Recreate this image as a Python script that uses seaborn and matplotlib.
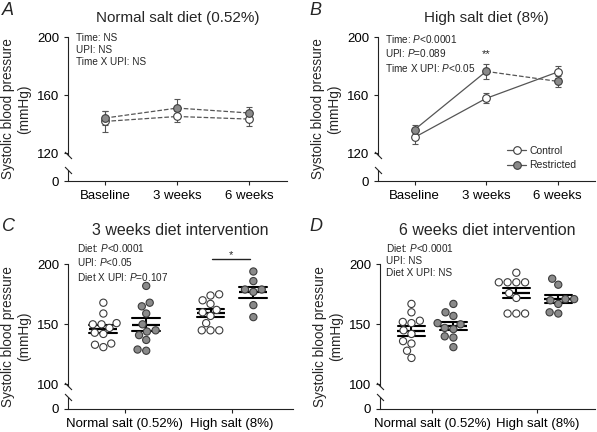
import numpy as np
import pandas as pd
import matplotlib.pyplot as plt
import seaborn as sns
from matplotlib.lines import Line2D

# time course means +/- SEM (mmHg)
timepoints = ['Baseline', '3 weeks', '6 weeks']
normal_ctrl_mean = [141.8, 145.2, 143.4]
normal_ctrl_sem = [7.0, 4.0, 4.5]
normal_rest_mean = [144.1, 151.0, 147.6]
normal_rest_sem = [5.0, 6.0, 4.0]
high_ctrl_mean = [130.8, 157.7, 175.9]
high_ctrl_sem = [4.5, 3.5, 4.0]
high_rest_mean = [136.1, 176.3, 169.4]
high_rest_sem = [3.5, 5.0, 4.0]

# individual animals
diets = ['Normal salt (0.52%)', 'High salt (8%)']
groups = ['Control', 'Restricted']
wk3_normal_ctrl = [168, 159, 150, 150, 151, 147, 143, 142, 134, 133, 131]
wk3_normal_rest = [182, 168, 165, 159, 150, 145, 144, 141, 137, 128, 129]
wk3_high_ctrl = [175, 174, 170, 167, 162, 160, 157, 151, 145, 145, 145]
wk3_high_rest = [194, 186, 179, 179, 177, 166, 156]
wk6_normal_ctrl = [167, 160, 153, 152, 151, 145, 142, 136, 134, 128, 122]
wk6_normal_rest = [167, 160, 157, 151, 150, 147, 146, 140, 139, 131]
wk6_high_ctrl = [193, 185, 185, 185, 185, 176, 172, 159, 159, 159]
wk6_high_rest = [188, 183, 171, 171, 170, 167, 160, 159]

stats_a = 'Time: NS\nUPI: NS\nTime X UPI: NS'
stats_b = 'Time: $P$<0.0001\nUPI: $P$=0.089\nTime X UPI: $P$<0.05'
stats_c = 'Diet: $P$<0.0001\nUPI: $P$<0.05\nDiet X UPI: $P$=0.107'
stats_d = 'Diet: $P$<0.0001\nUPI: NS\nDiet X UPI: NS'

sns.set_style('ticks')
plt.rcParams['font.family'] = ['Liberation Sans', 'DejaVu Sans']
plt.rcParams['mathtext.fontset'] = 'custom'
plt.rcParams['mathtext.rm'] = 'Liberation Sans'
plt.rcParams['mathtext.it'] = 'Liberation Sans:italic'

ink = '#222222'
line_c = '#555555'
grey = '#8a8a8a'
edge = '#3c3c3c'


def style_axis(ax, zero_pos, ticks, brk_hi, brk_lo):
    ax.set_ylim(zero_pos, 200)
    ax.set_yticks([zero_pos] + ticks)
    ax.set_yticklabels(['0'] + [str(t) for t in ticks])
    ax.spines[['top', 'right']].set_visible(False)
    for s in ['left', 'bottom']:
        ax.spines[s].set_color(ink)
        ax.spines[s].set_linewidth(0.8)
    ax.spines['left'].set_bounds(brk_hi, 200)
    ax.tick_params(direction='out', length=3, width=0.8, colors=ink,
                   labelsize=9.5, labelcolor='black')
    trans = ax.get_yaxis_transform()
    ax.plot([0, 0], [zero_pos, brk_lo], transform=trans, color=ink, lw=0.8, clip_on=False)
    for yb in (brk_hi, brk_lo):
        ax.plot(0, yb, marker=[(-1, 1), (1, -1)], ms=5, mew=0.8, color=ink,
                transform=trans, clip_on=False)
    ax.set_ylabel('Systolic blood pressure\n(mmHg)', fontsize=9.8, labelpad=4)
    ax.set_xlabel('')


def draw_timecourse(ax, ctrl_mean, ctrl_sem, rest_mean, rest_sem, ctrl_ls, rest_ls):
    x = np.arange(len(timepoints))
    for mean, sem, styles, fc in [(ctrl_mean, ctrl_sem, ctrl_ls, 'white'),
                                  (rest_mean, rest_sem, rest_ls, grey)]:
        for i, ls in enumerate(styles):
            sns.lineplot(x=x[i:i + 2], y=mean[i:i + 2], color=line_c, lw=0.9,
                         linestyle=ls, ax=ax)
        ax.errorbar(x, mean, yerr=sem, fmt='o', ms=5.5, mfc=fc, mec=edge, mew=0.8,
                    ecolor=line_c, elinewidth=0.8, capsize=2, capthick=0.8, zorder=3)
    ax.set_xticks(x)
    ax.set_xticklabels(timepoints)
    ax.set_xlim(-0.51, 2.52)


def scatter_frame(normal_ctrl, normal_rest, high_ctrl, high_rest):
    parts = []
    for diet, grp, vals in [(diets[0], groups[0], normal_ctrl), (diets[0], groups[1], normal_rest),
                            (diets[1], groups[0], high_ctrl), (diets[1], groups[1], high_rest)]:
        parts.append(pd.DataFrame({'diet': diet, 'group': grp, 'sbp': vals}))
    return pd.concat(parts, ignore_index=True)


def draw_scatter(ax, df):
    sns.swarmplot(data=df, x='diet', y='sbp', hue='group', order=diets, hue_order=groups,
                  dodge=True, palette={'Control': 'white', 'Restricted': grey},
                  edgecolor=edge, linewidth=0.8, size=5.2, legend=False, ax=ax)
    sns.pointplot(data=df, x='diet', y='sbp', hue='group', order=diets, hue_order=groups,
                  dodge=0.4, errorbar='se', palette={'Control': 'black', 'Restricted': 'black'},
                  markers='_', linestyles='none', capsize=0.26, err_kws={'linewidth': 1.5},
                  markersize=20, markeredgewidth=1.6, legend=False, ax=ax)


fig = plt.figure(figsize=(5.97, 4.32), dpi=100)
ax_a = fig.add_axes([0.1139, 0.581, 0.3668, 0.3333])
ax_b = fig.add_axes([0.6332, 0.581, 0.3635, 0.3333])
ax_c = fig.add_axes([0.1139, 0.0539, 0.3769, 0.3343])
ax_d = fig.add_axes([0.6365, 0.0539, 0.3601, 0.3343])

# A: normal salt time course
draw_timecourse(ax_a, normal_ctrl_mean, normal_ctrl_sem, normal_rest_mean, normal_rest_sem,
                ['--', '--'], ['--', '--'])
style_axis(ax_a, 100.7, [120, 160, 200], 118.9, 108.5)
ax_a.set_title('Normal salt diet (0.52%)', fontsize=11, pad=11)
ax_a.text(0.037, 1.03, stats_a, transform=ax_a.transAxes, va='top', ha='left',
          fontsize=7.2, linespacing=1.25)

# B: high salt time course
draw_timecourse(ax_b, high_ctrl_mean, high_ctrl_sem, high_rest_mean, high_rest_sem,
                ['-', '-'], ['-', '--'])
style_axis(ax_b, 100.7, [120, 160, 200], 118.9, 108.5)
ax_b.set_title('High salt diet (8%)', fontsize=11, pad=11)
ax_b.text(0.033, 1.03, stats_b, transform=ax_b.transAxes, va='top', ha='left',
          fontsize=7.2, linespacing=1.25)
ax_b.text(1, 188, '**', ha='center', va='center', fontsize=8)
handles = [Line2D([], [], color=line_c, lw=0.9, marker='o', ms=5.5, mfc='white', mec=edge, mew=0.8),
           Line2D([], [], color=line_c, lw=0.9, marker='o', ms=5.5, mfc=grey, mec=edge, mew=0.8)]
ax_b.legend(handles, groups, loc='lower left', bbox_to_anchor=(0.595, 0.075), frameon=False,
            fontsize=7.5, handlelength=1.8, handletextpad=0.3, labelspacing=0.45,
            borderpad=0, borderaxespad=0)

# C: 3 weeks
draw_scatter(ax_c, scatter_frame(wk3_normal_ctrl, wk3_normal_rest, wk3_high_ctrl, wk3_high_rest))
ax_c.set_xlim(-0.53, 1.57)
style_axis(ax_c, 79.7, [100, 150, 200], 99.0, 89.5)
ax_c.set_title('3 weeks diet intervention', fontsize=11.5, pad=21)
ax_c.text(0.04, 1.155, stats_c, transform=ax_c.transAxes, va='top', ha='left',
          fontsize=7.2, linespacing=1.25)
ax_c.plot([0.81, 1.17], [204, 204], color=ink, lw=1, clip_on=False)
ax_c.text(0.99, 208, '*', ha='center', va='center', fontsize=8)

# D: 6 weeks
draw_scatter(ax_d, scatter_frame(wk6_normal_ctrl, wk6_normal_rest, wk6_high_ctrl, wk6_high_rest))
ax_d.set_xlim(-0.5, 1.55)
style_axis(ax_d, 79.7, [100, 150, 200], 99.0, 89.5)
ax_d.set_title('6 weeks diet intervention', fontsize=11.5, pad=21)
ax_d.text(0.028, 1.155, stats_d, transform=ax_d.transAxes, va='top', ha='left',
          fontsize=7.2, linespacing=1.25)

for letter, (x, y) in zip('ABCD', [(0.004, 0.995), (0.519, 0.995), (0.004, 0.495), (0.519, 0.495)]):
    fig.text(x, y, letter, fontsize=13, style='italic', va='top', ha='left')

fig.savefig('out.png', dpi=100)
